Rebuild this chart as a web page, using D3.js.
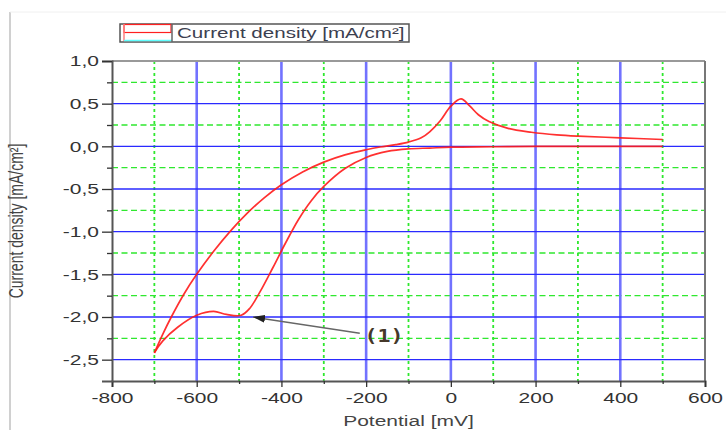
<!DOCTYPE html>
<html>
<head>
<meta charset="utf-8">
<script src="https://cdn.jsdelivr.net/npm/d3@7"></script>
<style>
  body { margin: 0; background: #fff; }
  svg { display: block; }
</style>
</head>
<body>
<div id="chart"></div>
<script>
// Axis ticks
const xMajor = [-800, -600, -400, -200, 0, 200, 400, 600];
const xMinor = [-700, -500, -300, -100, 100, 300, 500];
const yMajor = [1.0, 0.5, 0.0, -0.5, -1.0, -1.5, -2.0, -2.5];
const yMinor = [0.75, 0.25, -0.25, -0.75, -1.25, -1.75, -2.25];
const yTickLabels = ["1,0", "0,5", "0,0", "-0,5", "-1,0", "-1,5", "-2,0", "-2,5"];

// Cathodic sweep (500 mV -> -700 mV)
const forwardPotential = [500, 400, 300, 200, 100, 0, -50, -100, -150, -200, -250, -300, -330, -360, -390, -420, -450, -475, -495, -530, -560, -600, -645, -680, -700];
const forwardCurrent   = [0.0, 0.0, 0.0, 0.0, -0.005, -0.01, -0.02, -0.03, -0.06, -0.13, -0.26, -0.47, -0.64, -0.86, -1.13, -1.42, -1.70, -1.90, -1.98, -1.97, -1.935, -1.98, -2.12, -2.28, -2.42];

// Anodic sweep (-700 mV -> 500 mV)
const reversePotential = [-700, -680, -660, -630, -600, -560, -520, -480, -440, -400, -350, -300, -250, -200, -167, -130, -100, -70, -50, -25, 0, 24, 45, 65, 90, 135, 190, 250, 300, 400, 500];
const reverseCurrent   = [-2.42, -2.2, -2.0, -1.73, -1.5, -1.23, -0.99, -0.78, -0.6, -0.45, -0.3, -0.185, -0.1, -0.04, -0.008, 0.02, 0.05, 0.1, 0.17, 0.3, 0.47, 0.555, 0.47, 0.37, 0.29, 0.21, 0.165, 0.135, 0.12, 0.10, 0.08];

// Annotation "(1)"
const arrowFrom = [-215, -2.19];
const arrowTo = [-467, -2.0];
const labelAt = [-158, -2.29];

const W = 726, H = 430;
const SX = 1.4; // horizontal stretch of the text in the original picture

const svg = d3.select("#chart").append("svg")
    .attr("width", W)
    .attr("height", H);

// faint frame of the screenshot
svg.append("line").attr("x1", 10).attr("x2", 10).attr("y1", 12).attr("y2", H)
    .attr("stroke", "#d0d0d0").attr("stroke-width", 2);
svg.append("line").attr("x1", 10).attr("x2", W).attr("y1", 12).attr("y2", 12)
    .attr("stroke", "#f0f0f0").attr("stroke-width", 1);

const x = d3.scaleLinear().domain([-800, 600]).range([112, 705]);
const y = d3.scaleLinear().domain([-2.75, 1.0]).range([381, 61]);

// Grid: green dashed minor lines
const grid = svg.append("g");
grid.selectAll(".vminor").data(xMinor).enter().append("line")
    .attr("x1", d => x(d)).attr("x2", d => x(d))
    .attr("y1", y(1.0)).attr("y2", y(-2.75))
    .attr("stroke", "#2fe82f").attr("stroke-width", 1.8)
    .attr("stroke-dasharray", "3,3");
grid.selectAll(".hminor").data(yMinor).enter().append("line")
    .attr("x1", x(-800)).attr("x2", x(600))
    .attr("y1", d => y(d)).attr("y2", d => y(d))
    .attr("stroke", "#2fe82f").attr("stroke-width", 1.3)
    .attr("stroke-dasharray", "6,3.5");

// Grid: blue major lines
grid.selectAll(".vmajor").data(xMajor.slice(1, -1)).enter().append("line")
    .attr("x1", d => x(d)).attr("x2", d => x(d))
    .attr("y1", y(1.0)).attr("y2", y(-2.75))
    .attr("stroke", "#7272ff").attr("stroke-width", 2.6);
grid.selectAll(".hmajor").data(yMajor.slice(1)).enter().append("line")
    .attr("x1", x(-800)).attr("x2", x(600))
    .attr("y1", d => y(d)).attr("y2", d => y(d))
    .attr("stroke", "#2a2aff").attr("stroke-width", 1.3);

// Frame top / right
svg.append("line").attr("x1", x(-800)).attr("x2", x(600)).attr("y1", y(1.0)).attr("y2", y(1.0))
    .attr("stroke", "#999").attr("stroke-width", 2);
svg.append("line").attr("x1", x(600)).attr("x2", x(600)).attr("y1", y(1.0)).attr("y2", y(-2.75))
    .attr("stroke", "#777").attr("stroke-width", 2);

// Curves
const line = d3.line()
    .x(d => x(d[0]))
    .y(d => y(d[1]))
    .curve(d3.curveCatmullRom.alpha(0.5));

const forward = forwardPotential.map((p, i) => [p, forwardCurrent[i]]);
const reverse = reversePotential.map((p, i) => [p, reverseCurrent[i]]);

[forward, reverse].forEach(series => {
    svg.append("path")
        .datum(series)
        .attr("fill", "none")
        .attr("stroke", "#ff1a1a")
        .attr("stroke-width", 1.7)
        .attr("stroke-opacity", 0.9)
        .attr("d", line);
});

// Axes
const xAxis = svg.append("g").attr("transform", `translate(0,${y(-2.75)})`)
    .call(d3.axisBottom(x).tickValues(xMajor).tickSize(6).tickFormat(d => String(d)));
svg.append("g").attr("transform", `translate(0,${y(-2.75)})`)
    .call(d3.axisBottom(x).tickValues(xMinor).tickSize(3).tickFormat(""))
    .call(g => g.select(".domain").remove());

const yAxis = svg.append("g").attr("transform", `translate(${x(-800)},0)`)
    .call(d3.axisLeft(y).tickValues(yMajor).tickSize(10).tickFormat((d, i) => yTickLabels[i]));
svg.append("g").attr("transform", `translate(${x(-800)},0)`)
    .call(d3.axisLeft(y).tickValues(yMinor).tickSize(5).tickFormat(""))
    .call(g => g.select(".domain").remove());

svg.selectAll(".domain").attr("stroke", "#555").attr("stroke-width", 2);
svg.selectAll(".tick line").attr("stroke", "#333").attr("stroke-width", 1.3);

xAxis.selectAll("text")
    .attr("y", 0).attr("dy", 0)
    .attr("transform", `translate(0,22) scale(${SX},1)`)
    .attr("font-family", "'Liberation Sans', Arial, sans-serif")
    .attr("font-size", 15)
    .attr("fill", "#333");

yAxis.selectAll("text")
    .attr("x", 0)
    .attr("transform", `translate(-13,0) scale(${SX},1)`)
    .attr("font-family", "'Liberation Sans', Arial, sans-serif")
    .attr("font-size", 15)
    .attr("fill", "#333");

// Axis titles
svg.append("text")
    .attr("transform", `translate(${(x(-800) + x(600)) / 2},426) scale(${SX},1)`)
    .attr("text-anchor", "middle")
    .attr("font-family", "'Liberation Sans', Arial, sans-serif")
    .attr("font-size", 15)
    .attr("fill", "#444")
    .text("Potential [mV]");

svg.append("text")
    .attr("transform", `translate(23,${(y(1.0) + y(-2.75)) / 2}) scale(${SX},1) rotate(-90)`)
    .attr("text-anchor", "middle")
    .attr("font-family", "'Liberation Sans', Arial, sans-serif")
    .attr("font-size", 14)
    .attr("fill", "#444")
    .text("Current density [mA/cm²]");

// Legend
const legend = svg.append("g");
legend.append("rect")
    .attr("x", 120).attr("y", 24).attr("width", 289).attr("height", 18)
    .attr("fill", "#fff").attr("stroke", "#555").attr("stroke-width", 1.5);
legend.append("rect")
    .attr("x", 124).attr("y", 24.5).attr("width", 47).attr("height", 8)
    .attr("fill", "none").attr("stroke", "#ff2020").attr("stroke-width", 1.2);
legend.append("line").attr("x1", 124).attr("x2", 124).attr("y1", 24).attr("y2", 41)
    .attr("stroke", "#ff8080").attr("stroke-width", 1.5);
legend.append("line").attr("x1", 124).attr("x2", 172).attr("y1", 40.5).attr("y2", 40.5)
    .attr("stroke", "#60ffff").attr("stroke-width", 1.5);
legend.append("line").attr("x1", 172).attr("x2", 172).attr("y1", 24).attr("y2", 42)
    .attr("stroke", "#666").attr("stroke-width", 1.5);
legend.append("text")
    .attr("transform", `translate(177,38) scale(${SX * 1.05},1)`)
    .attr("font-family", "'Liberation Sans', Arial, sans-serif")
    .attr("font-size", 14)
    .attr("fill", "#3c4050")
    .text("Current density [mA/cm²]");

// Annotation arrow
svg.append("defs").append("marker")
    .attr("id", "arrow")
    .attr("viewBox", "0 0 12 8")
    .attr("refX", 12).attr("refY", 4)
    .attr("markerWidth", 12).attr("markerHeight", 8)
    .attr("markerUnits", "userSpaceOnUse")
    .attr("orient", "auto")
    .append("path")
    .attr("d", "M0,0 L12,4 L0,8 Z")
    .attr("fill", "#222");

svg.append("line")
    .attr("x1", x(arrowFrom[0])).attr("y1", y(arrowFrom[1]))
    .attr("x2", x(arrowTo[0])).attr("y2", y(arrowTo[1]))
    .attr("stroke", "#666").attr("stroke-width", 1.5)
    .attr("marker-end", "url(#arrow)");

svg.append("text")
    .attr("transform", `translate(${x(labelAt[0])},${y(labelAt[1])}) scale(1.2,1)`)
    .attr("text-anchor", "middle")
    .attr("font-family", "'DejaVu Sans Mono', monospace")
    .attr("font-weight", "bold")
    .attr("font-size", 18)
    .attr("fill", "#45382a")
    .text("(1)");
</script>
</body>
</html>
